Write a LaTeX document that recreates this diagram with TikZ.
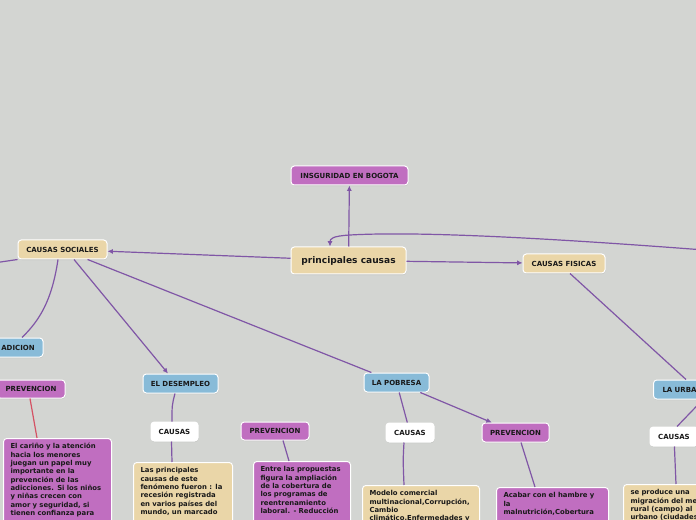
\documentclass[tikz,border=0pt]{standalone}
\usepackage{fontspec}
\setmainfont{DejaVu Sans}
\usetikzlibrary{arrows.meta,calc,shadows}
\definecolor{bg}{RGB}{211,213,210}
\definecolor{beige}{RGB}{234,214,168}
\definecolor{purp}{RGB}{192,110,192}
\definecolor{blu}{RGB}{136,187,216}
\definecolor{lnk}{RGB}{128,86,166}
\definecolor{redl}{RGB}{212,82,100}
\definecolor{ink}{RGB}{25,25,25}
\begin{document}
\begin{tikzpicture}[x=0.75pt,y=-0.75pt,
  box/.style={draw=white, line width=0.75pt, rounded corners=2.5pt, text=ink,
    inner sep=0pt, drop shadow={shadow xshift=0.3pt, shadow yshift=-0.8pt, opacity=0.22}},
  lab/.style={box, font=\bfseries\fontsize{5.25}{6.3}\selectfont, minimum height=19*0.75pt},
  txt/.style={box, anchor=north west, align=left, inner xsep=7*0.75pt, inner ysep=5*0.75pt,
    text depth=90pt, font=\bfseries\fontsize{5.15}{6.25}\selectfont},
  link/.style={draw=lnk, line width=0.9pt},
  arr/.style={-{Latex[length=4pt,width=3.8pt]}}]
\useasboundingbox (0,0) rectangle (696,520);
\clip (0,0) rectangle (696,520);
\fill[bg] (0,0) rectangle (696,520);

% main nodes
\node[box, fill=beige, font=\bfseries\fontsize{6.8}{8}\selectfont, minimum width=115*0.75pt, minimum height=27*0.75pt] (main) at (348.5,260.5) {principales causas};
\node[lab, fill=purp, minimum width=117*0.75pt] (ins) at (349.5,175.5) {INSGURIDAD EN BOGOTA};
\node[lab, fill=beige, minimum width=89*0.75pt] (soc) at (62.5,249.5) {CAUSAS SOCIALES};
\node[lab, fill=beige, minimum width=82*0.75pt] (fis) at (564,263.5) {CAUSAS FISICAS};

% left branch
\node[lab, fill=blu, minimum width=50*0.75pt] (adic) at (18,347.5) {ADICION};
\node[lab, fill=purp, minimum width=68*0.75pt, minimum height=18*0.75pt] (prevL) at (31,389) {PREVENCION};
\node[txt, fill=purp, text width=94*0.75pt] (txtL) at (3,438) {%
\mbox{El cariño y la atención}\\ \mbox{hacia los menores}\\ \mbox{juegan un papel muy}\\ \mbox{importante en la}\\ \mbox{prevención de las}\\ \mbox{adicciones. Si los niños}\\ \mbox{y niñas crecen con}\\ \mbox{amor y seguridad, si}\\ \mbox{tienen confianza para}};

% desempleo
\node[lab, fill=blu, minimum width=75*0.75pt] (desem) at (180.5,383.5) {EL DESEMPLEO};
\node[lab, fill=white, minimum width=47*0.75pt] (causasD) at (174.5,431.5) {CAUSAS};
\node[txt, fill=beige, text width=85*0.75pt] (txtD) at (133,462) {%
\mbox{Las principales}\\ \mbox{causas de este}\\ \mbox{fenómeno fueron : la}\\ \mbox{recesión registrada}\\ \mbox{en varios países del}\\ \mbox{mundo, un marcado}};
\node[lab, fill=purp, minimum width=68*0.75pt, minimum height=18*0.75pt] (prevM) at (275,431) {PREVENCION};
\node[txt, fill=purp, text width=83*0.75pt] (txtM) at (253,461) {%
\mbox{Entre las propuestas}\\ \mbox{figura la ampliación}\\ \mbox{de la cobertura de}\\ \mbox{los programas de}\\ \mbox{reentrenamiento}\\ \mbox{laboral. - Reducción}};

% pobresa
\node[lab, fill=blu, minimum width=65*0.75pt] (pob) at (396.5,382.5) {LA POBRESA};
\node[lab, fill=white, minimum width=48*0.75pt] (causasP) at (410,432.5) {CAUSAS};
\node[txt, fill=beige, text width=103*0.75pt] (txtP) at (362,485) {%
\mbox{Modelo comercial}\\ \mbox{multinacional,Corrupción,}\\ \mbox{Cambio}\\ \mbox{climático,Enfermedades y}};
\node[lab, fill=purp, minimum width=67*0.75pt] (prevR) at (515.5,432.5) {PREVENCION};
\node[txt, fill=purp, text width=98*0.75pt] (txtR) at (496,487) {%
\mbox{Acabar con el hambre y}\\ \mbox{la}\\ \mbox{malnutrición,Cobertura}};

% urbanizacion
\node[lab, fill=blu, anchor=west, text width=86*0.75pt, align=left, inner xsep=9*0.75pt] (urba) at (653,389.5) {LA URBA};
\node[lab, fill=white, minimum width=48*0.75pt] (causasU) at (674,436.5) {CAUSAS};
\node[txt, fill=beige, text width=110*0.75pt] (txtU) at (623,484) {%
\mbox{se produce una}\\ \mbox{migración del medio}\\ \mbox{rural (campo) al}\\ \mbox{urbano (ciudades)}};

\coordinate (offL) at (-40,268);
\coordinate (offR) at (780,256);

% connectors
\draw[link, arr] (main) -- (ins);
\draw[link, arr] (main) -- (soc);
\draw[link, arr] (main) -- (fis);
\draw[link, arr] (offR) .. controls (560,238) and (420,231) .. (350,235)
   .. controls (332,236) and (330,239) .. ($(main.north)+(-18.5,0)$);
\draw[link] (soc.south west) -- (offL);
\draw[link] ($(soc.south)+(-4.5,0)$) .. controls (52,300) and (40,320) .. ($(adic.north)+(4,0)$);
\draw[link, arr] ($(soc.south)+(11.5,0)$) -- ($(desem.north)+(-12.5,0)$);
\draw[link] (soc) -- (pob);
\draw[draw=redl, line width=0.9pt] ($(prevL.south)+(-1,0)$) -- ($(txtL.north west)+(34,0)$);
\draw[link] ($(desem.south)+(-5.5,0)$) .. controls (172,405) .. ($(causasD.north)+(-2.5,0)$);
\draw[link] ($(causasD.south)+(-3,0)$) -- ($(txtD.north west)+(39,0)$);
\draw[link] ($(prevM.south)+(8,0)$) -- ($(txtM.north west)+(36,0)$);
\draw[link] (pob) -- (causasP);
\draw[link, arr] (pob) -- (prevR);
\draw[link] ($(causasP.south)+(-6,0)$) .. controls (403,460) .. ($(txtP.north west)+(42,0)$);
\draw[link] ($(prevR.south)+(5.5,0)$) -- ($(txtR.north west)+(39,0)$);
\draw[link] ($(fis.south)+(6,0)$) -- ($(urba.north west)+(33,0)$);
\draw[link] ($(urba.south west)+(50,0)$) -- ($(causasU.north)+(3,0)$);
\draw[link] (causasU) -- ($(txtU.north west)+(53,0)$);
\end{tikzpicture}
\end{document}
